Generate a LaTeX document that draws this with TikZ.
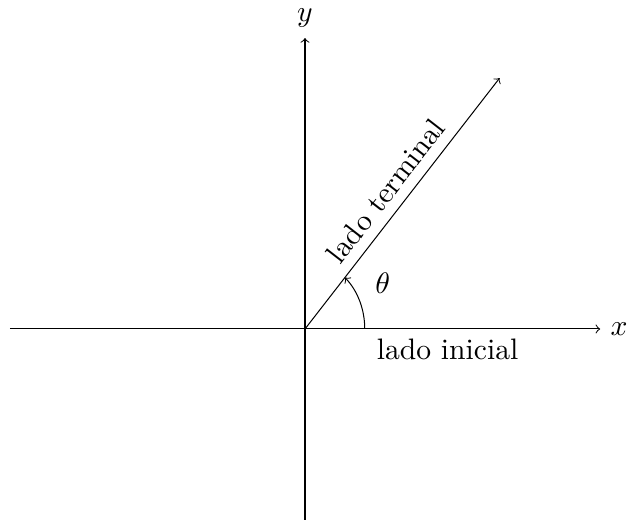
\documentclass[tikz,border=0pt]{standalone}
\begin{document}
\begin{tikzpicture}[every node/.style={scale=1.17}]
\useasboundingbox (-4.236,-2.708) rectangle (4.486,4.569);
\coordinate (O) at (0,0);
\coordinate (xl) at (-4.1,0);
\coordinate (xr) at (4.1,0);
\coordinate (yb) at (0,-2.65);
\coordinate (yt) at (0,4.04);
\coordinate (T) at (52.2:4.41);
\draw[->] (xl) -- (xr) node[right] (xlab) {$x$};
\draw[->] (yb) -- (yt) node[above] (ylab) {$y$};
\draw[->] (O) -- (T) node[midway, above, sloped] (term) {lado terminal};
\draw[->] (0.83,0) arc[start angle=0, end angle=48, x radius=0.83, y radius=0.96];
\node (th) at (1.08,0.64) {$\theta$};
\node[below] (ini) at (1.98,0) {lado inicial};
\end{tikzpicture}
\end{document}
